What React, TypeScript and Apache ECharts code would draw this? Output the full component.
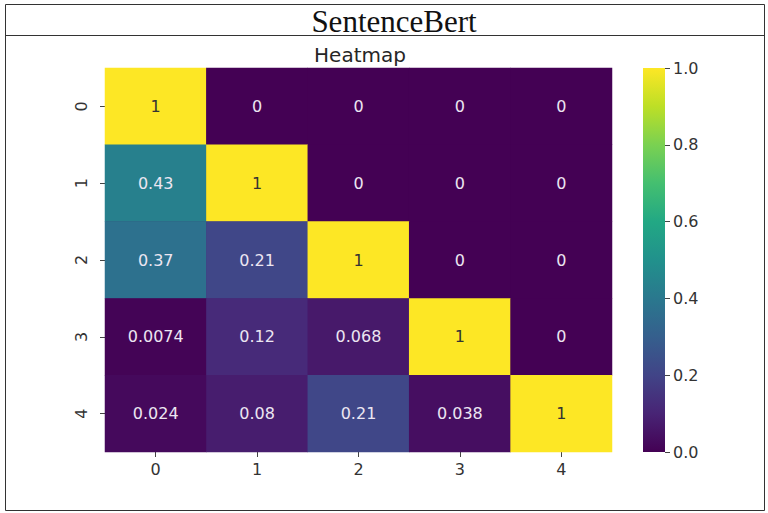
import React, { useEffect, useRef } from "react";
import * as echarts from "echarts";

const xCategories = ["0", "1", "2", "3", "4"];
const yCategories = ["0", "1", "2", "3", "4"];
const matrix: number[][] = [
  [1, 0, 0, 0, 0],
  [0.43, 1, 0, 0, 0],
  [0.37, 0.21, 1, 0, 0],
  [0.0074, 0.12, 0.068, 1, 0],
  [0.024, 0.08, 0.21, 0.038, 1],
];
const colorbarRange = [0, 1];
const colorbarTicks = ["0.0", "0.2", "0.4", "0.6", "0.8", "1.0"];
const viridis = [
  "#440154", "#482475", "#414487", "#355f8d", "#2a788e", "#21918c",
  "#22a884", "#44bf70", "#7ad151", "#bddf26", "#fde725",
];
const mainTitle = "SentenceBert";
const subTitle = "Heatmap";

export default function App() {
  const ref = useRef<HTMLDivElement>(null);
  useEffect(() => {
    document.body.style.margin = "0";
    if (!ref.current) return;
    const chart = echarts.init(ref.current, null, { renderer: "svg" });
    const data: any[] = [];
    matrix.forEach((row, yi) =>
      row.forEach((v, xi) => {
        data.push({
          value: [xi, yi, v],
          label: { color: v > 0.6 ? "#333333" : "#ece6f2" },
        });
      })
    );
    const font = "DejaVu Sans";
    const gradientStops = viridis.map((c, i) => ({ offset: i / (viridis.length - 1), color: c }));
    chart.setOption({
      animation: false,
      backgroundColor: "#ffffff",
      graphic: [
        {
          type: "rect",
          shape: { x: 5.5, y: 4.5, width: 759, height: 506 },
          style: { fill: "none", stroke: "#333333", lineWidth: 1 },
        },
        {
          type: "line",
          shape: { x1: 5, y1: 35.5, x2: 765, y2: 35.5 },
          style: { stroke: "#333333", lineWidth: 1 },
        },
        {
          type: "rect",
          z: -1,
          shape: { x: 105.5, y: 68.5, width: 506, height: 383 },
          style: { fill: "#440154" },
        },
        {
          type: "rect",
          shape: { x: 643, y: 68, width: 22, height: 384 },
          style: {
            fill: new echarts.graphic.LinearGradient(0, 1, 0, 0, gradientStops),
          },
        },
        {
          type: "text",
          x: 394,
          y: 21,
          style: {
            text: mainTitle,
            font: '31px "Liberation Serif"',
            fill: "#111111",
            align: "center",
            verticalAlign: "middle",
          },
        },
        {
          type: "text",
          x: 360,
          y: 55,
          style: {
            text: subTitle,
            font: '20px "DejaVu Sans"',
            fill: "#262626",
            align: "center",
            verticalAlign: "middle",
          },
        },
      ],
      grid: [
        { left: 105, top: 68, width: 507, height: 384 },
        { left: 643, top: 68, width: 22, height: 384 },
      ],
      xAxis: [
        {
          type: "category",
          data: xCategories,
          gridIndex: 0,
          axisLine: { show: false },
          axisTick: { show: true, alignWithLabel: true, length: 5, lineStyle: { color: "#444" } },
          axisLabel: { color: "#333", fontFamily: font, fontSize: 16, margin: 9 },
          splitLine: { show: false },
        },
        { type: "value", gridIndex: 1, show: false, min: 0, max: 1 },
      ],
      yAxis: [
        {
          type: "category",
          data: yCategories,
          inverse: true,
          gridIndex: 0,
          axisLine: { show: false },
          axisTick: { show: true, alignWithLabel: true, length: 5, lineStyle: { color: "#444" } },
          axisLabel: { color: "#333", fontFamily: font, fontSize: 16, rotate: 90, margin: 16 },
          splitLine: { show: false },
        },
        {
          type: "category",
          gridIndex: 1,
          data: colorbarTicks,
          boundaryGap: false,
          position: "right",
          axisLine: { show: false, onZero: false },
          axisTick: { show: true, length: 5, interval: 0, lineStyle: { color: "#444444", width: 1 } },
          axisLabel: {
            color: "#333",
            fontFamily: font,
            fontSize: 16,
            margin: 8,
            interval: 0,
          },
          splitLine: { show: false },
        },
      ],
      visualMap: {
        type: "continuous",
        show: false,
        seriesIndex: 0,
        min: colorbarRange[0],
        max: colorbarRange[1],
        inRange: { color: viridis },
      },
      series: [
        {
          type: "heatmap",
          xAxisIndex: 0,
          yAxisIndex: 0,
          data,
          itemStyle: { borderWidth: 0 },
          label: {
            show: true,
            fontFamily: font,
            fontSize: 16,
            formatter: (p: any) => String(p.value[2]),
          },
          emphasis: { disabled: true },
        },
        {
          type: "scatter",
          xAxisIndex: 1,
          yAxisIndex: 1,
          silent: true,
          data: [],
        },
      ],
    });
    return () => chart.dispose();
  }, []);
  return <div ref={ref} style={{ width: 768, height: 513 }} />;
}
